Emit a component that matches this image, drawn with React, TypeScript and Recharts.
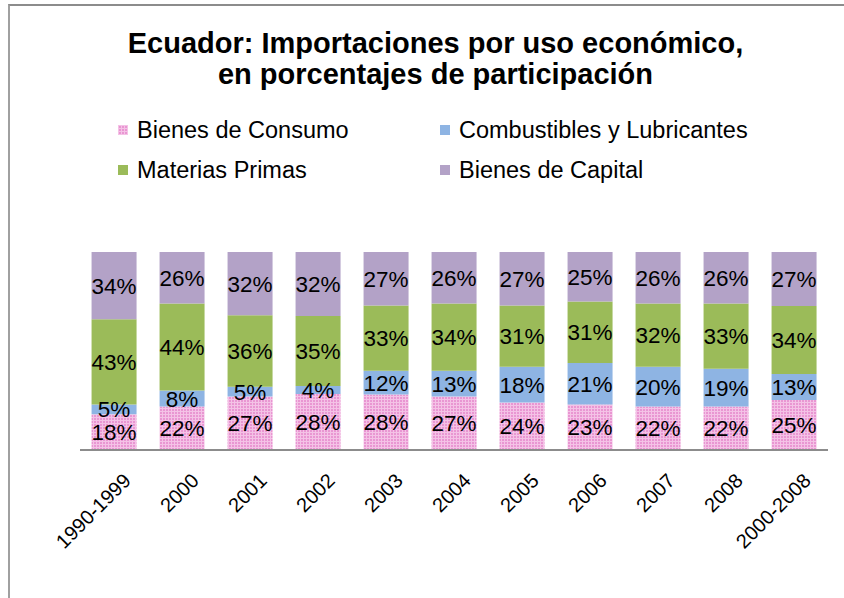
import React from 'react';
import { BarChart, Bar, XAxis, YAxis, LabelList, Legend } from 'recharts';

const categories = ['1990-1999', '2000', '2001', '2002', '2003', '2004', '2005', '2006', '2007', '2008', '2000-2008'];
const bienesConsumo = [18, 22, 27, 28, 28, 27, 24, 23, 22, 22, 25];
const combustibles = [5, 8, 5, 4, 12, 13, 18, 21, 20, 19, 13];
const materiasPrimas = [43, 44, 36, 35, 33, 34, 31, 31, 32, 33, 34];
const bienesCapital = [34, 26, 32, 32, 27, 26, 27, 25, 26, 26, 27];

const seriesNames = ['Bienes de Consumo', 'Combustibles y Lubricantes', 'Materias Primas', 'Bienes de Capital'];

const data = categories.map((c, i) => ({
  name: c,
  consumo: bienesConsumo[i],
  combustibles: combustibles[i],
  materias: materiasPrimas[i],
  capital: bienesCapital[i],
}));

const FONT = '"Liberation Sans", Arial, sans-serif';

const Tick = (props: any) => {
  const { x, y, payload } = props;
  const tx = x + 18;
  const ty = y + 24;
  return (
    <text x={tx} y={ty} transform={`rotate(-45 ${tx} ${ty})`} textAnchor="end" fontSize={20} fontFamily={FONT} fill="#000">
      {payload.value}
    </text>
  );
};

const LegendContent = (props: any) => {
  const items = [...(props.payload || [])].sort(
    (a: any, b: any) => seriesNames.indexOf(a.value) - seriesNames.indexOf(b.value)
  );
  return (
    <div style={{ position: 'relative', width: 700, height: 70, fontFamily: FONT, fontSize: 23.5, color: '#000' }}>
      {items.map((p: any, i: number) => {
        const col = i % 2;
        const row = Math.floor(i / 2);
        return (
          <div key={i} style={{ position: 'absolute', left: col * 322, top: row * 40, display: 'flex', alignItems: 'center', whiteSpace: 'nowrap', height: 26 }}>
            <svg width={10} height={10} style={{ marginRight: 9 }}>
              <rect width={10} height={10} fill={p.color} />
            </svg>
            <span style={{ lineHeight: '26px' }}>{p.value}</span>
          </div>
        );
      })}
    </div>
  );
};

const fmt = (v: any) => `${v}%`;

export default function App() {
  return (
    <div style={{ position: 'absolute', left: 0, top: 0, width: 844, height: 598, overflow: 'hidden', background: '#fff' }}>
      <div style={{ position: 'absolute', left: 8, top: 4, width: 900, height: 700, borderTop: '2px solid #8c8c8c', borderLeft: '2px solid #a0a0a0' }} />
      <div style={{ position: 'absolute', left: 0, top: 28, width: 871, textAlign: 'center', fontFamily: FONT, fontWeight: 'bold', fontSize: 29, lineHeight: '31px', color: '#000' }}>
        Ecuador: Importaciones por uso económico,<br />en porcentajes de participación
      </div>
      <div style={{ position: 'absolute', left: 0, top: 0 }}>
        <BarChart width={844} height={598} data={data} stackOffset="expand" barCategoryGap="17%" margin={{ top: 252, right: 16, left: 80, bottom: 0 }}>
          <defs>
            <pattern id="pinkGrid" width={3} height={3} patternUnits="userSpaceOnUse">
              <rect width={3} height={3} fill="#E996D2" />
              <rect width={1} height={3} fill="#F4C2E6" />
              <rect width={3} height={1} fill="#F4C2E6" />
            </pattern>
          </defs>
          <XAxis dataKey="name" height={148} interval={0} tickLine={false} axisLine={{ stroke: '#8c8c8c', strokeWidth: 2 }} tick={<Tick />} />
          <YAxis hide domain={[0, 1]} />
          <Legend verticalAlign="middle" align="center" layout="horizontal" wrapperStyle={{ top: 117, left: 118, width: 720, height: 70 }} content={<LegendContent />} />
          <Bar dataKey="consumo" name={seriesNames[0]} stackId="a" fill="url(#pinkGrid)" legendType="square" isAnimationActive={false}>
            <LabelList dataKey="consumo" position="center" formatter={fmt} fill="#000" fontSize={22.5} fontFamily={FONT} />
          </Bar>
          <Bar dataKey="combustibles" name={seriesNames[1]} stackId="a" fill="#8EB4E3" isAnimationActive={false}>
            <LabelList dataKey="combustibles" position="center" formatter={fmt} fill="#000" fontSize={22.5} fontFamily={FONT} />
          </Bar>
          <Bar dataKey="materias" name={seriesNames[2]} stackId="a" fill="#9BBB59" isAnimationActive={false}>
            <LabelList dataKey="materias" position="center" formatter={fmt} fill="#000" fontSize={22.5} fontFamily={FONT} />
          </Bar>
          <Bar dataKey="capital" name={seriesNames[3]} stackId="a" fill="#B3A2C7" isAnimationActive={false}>
            <LabelList dataKey="capital" position="center" formatter={fmt} fill="#000" fontSize={22.5} fontFamily={FONT} />
          </Bar>
        </BarChart>
      </div>
    </div>
  );
}
